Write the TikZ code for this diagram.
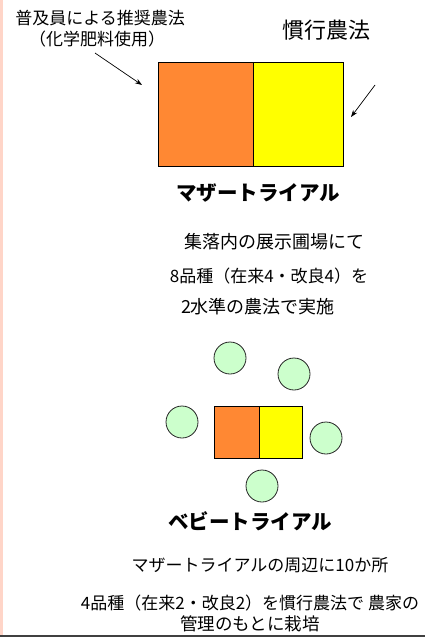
\documentclass[tikz,border=0pt]{standalone}
\usepackage{fontspec}
\newfontfamily\jp{Noto Sans CJK JP}
\usetikzlibrary{arrows.meta}
\definecolor{plotorange}{HTML}{FF8833}
\definecolor{plotyellow}{HTML}{FFFF00}
\definecolor{plotgreen}{HTML}{CCFFCC}
\definecolor{edgesalmon}{HTML}{FFD5C8}
\tikzset{
  txt/.style={inner sep=0pt, font=\jp\fontsize{17}{20}\selectfont},
  bigtxt/.style={inner sep=0pt, font=\jp\fontsize{18}{21}\selectfont},
  head/.style={inner sep=0pt, font=\jp\bfseries\fontsize{20.5}{24}\selectfont},
  plot/.style={draw=black, line width=0.9pt, minimum width=#1, inner sep=0pt},
  plotcirc/.style={circle, draw=black!85, line width=0.8pt, fill=plotgreen, minimum size=32pt, inner sep=0pt},
  pointer/.style={-{Stealth[length=7pt,width=5pt]}, line width=0.7pt}
}
\begin{document}
\begin{tikzpicture}[x=1pt,y=-1pt]
\useasboundingbox (0,0) rectangle (425,637);
\fill[edgesalmon] (0,0) rectangle (2.5,637);
\fill[black!75] (0,634.5) rectangle (425,637);
% labels top
\node[txt] (rec1) at (100,18) {普及員による推奨農法};
\node[txt] (rec2) at (97,39) {（化学肥料使用）};
\node[txt, font=\jp\fontsize{22}{26}\selectfont] (conv) at (326,30) {慣行農法};
% mother trial plot
\node[plot=95pt, minimum height=104pt, fill=plotorange] (mo) at (205.5,114) {};
\node[plot=90pt, minimum height=104pt, fill=plotyellow] (my) at (298,114) {};
\coordinate (a1s) at (95,53);
\coordinate (a1e) at (142,85);
\coordinate (a2s) at (375,85);
\coordinate (a2e) at (351,117);
\draw[pointer] (a1s) -- (a1e);
\draw[pointer] (a2s) -- (a2e);
\node[head] (mother) at (258,193) {マザートライアル};
\node[bigtxt] (m1) at (274,242) {集落内の展示圃場にて};
\node[txt] (m2) at (269,276) {8品種（在来4・改良4）を};
\node[bigtxt] (m3) at (258,307) {2水準の農法で実施};
% baby trial
\node[plotcirc] (c1) at (230,358) {};
\node[plotcirc] (c2) at (294,374) {};
\node[plotcirc] (c3) at (182,422) {};
\node[plotcirc] (c4) at (326,438) {};
\node[plotcirc] (c5) at (262,486) {};
\node[plot=45pt, minimum height=52pt, fill=plotorange] (bo) at (236.5,432) {};
\node[plot=43pt, minimum height=52pt, fill=plotyellow] (by) at (280.5,432) {};
\node[head] (baby) at (250,521) {ベビートライアル};
\node[txt] (b1) at (260,565) {マザートライアルの周辺に10か所};
\node[txt] (b2) at (250,603) {4品種（在来2・改良2）を慣行農法で 農家の};
\node[txt, font=\jp\fontsize{17.5}{20}\selectfont] (b3) at (250,624) {管理のもとに栽培};
\end{tikzpicture}
\end{document}
